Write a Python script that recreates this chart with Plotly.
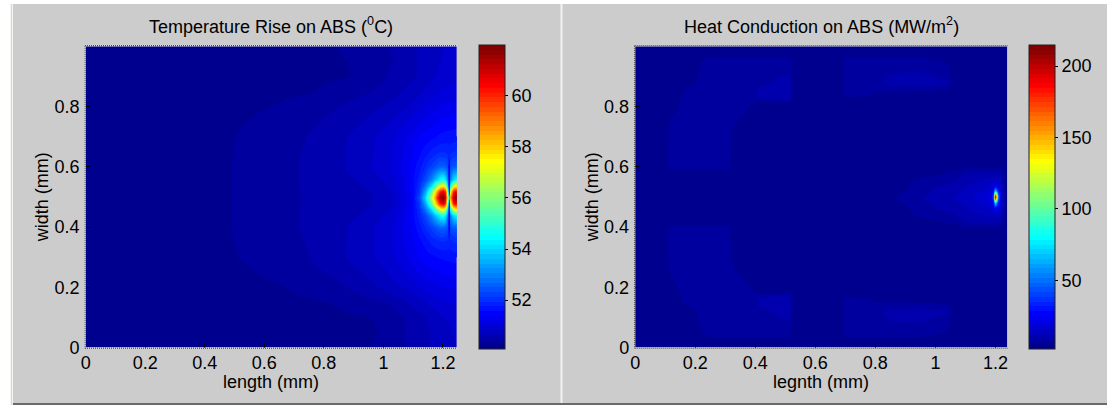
import numpy as np
import plotly.graph_objects as go

# ---------------- data: left panel, temperature rise (deg C) ----------------
T_X = [0, 0.3, 0.45, 0.55, 0.65, 0.75, 0.85, 0.95, 1.02, 1.08, 1.12, 1.16, 1.2, 1.25]
T_Y = [0, 0.05, 0.1, 0.15, 0.2, 0.3, 0.4, 0.45, 0.5, 0.55, 0.6, 0.7, 0.8, 0.85, 0.9, 0.95, 1.0]
T_Z = [
    [50.12, 50.15, 50.18, 50.20, 50.22, 50.24, 50.25, 50.28, 50.38, 50.50, 50.60, 50.68, 50.78, 50.86],
    [50.12, 50.15, 50.18, 50.20, 50.22, 50.24, 50.25, 50.26, 50.32, 50.50, 50.58, 50.66, 50.78, 50.88],
    [50.12, 50.15, 50.18, 50.20, 50.22, 50.24, 50.26, 50.28, 50.36, 50.50, 50.60, 50.70, 50.84, 50.90],
    [50.12, 50.16, 50.19, 50.21, 50.23, 50.26, 50.30, 50.40, 50.48, 50.66, 50.76, 50.90, 51.00, 51.08],
    [50.12, 50.17, 50.21, 50.24, 50.27, 50.35, 50.43, 50.59, 50.75, 50.89, 51.03, 51.12, 51.20, 51.25],
    [50.12, 50.19, 50.25, 50.31, 50.39, 50.47, 50.62, 50.80, 50.97, 51.22, 51.42, 51.55, 51.62, 51.68],
    [50.12, 50.20, 50.26, 50.33, 50.41, 50.50, 50.60, 50.80, 51.00, 51.32, 51.68, 52.60, 52.60, 52.60],
    [50.12, 50.20, 50.26, 50.33, 50.41, 50.50, 50.585, 50.68, 50.88, 51.29, 52.00, 54.00, 57.00, 57.00],
    [50.12, 50.20, 50.26, 50.33, 50.41, 50.495, 50.56, 50.63, 50.76, 51.26, 52.30, 56.50, 61.90, 61.90],
    [50.12, 50.20, 50.26, 50.33, 50.41, 50.505, 50.59, 50.69, 50.90, 51.30, 52.00, 54.00, 57.00, 57.00],
    [50.12, 50.20, 50.26, 50.33, 50.41, 50.51, 50.62, 50.82, 51.03, 51.34, 51.70, 52.20, 52.60, 52.60],
    [50.12, 50.19, 50.25, 50.32, 50.40, 50.48, 50.61, 50.79, 50.97, 51.22, 51.42, 51.55, 51.65, 51.70],
    [50.12, 50.18, 50.23, 50.26, 50.30, 50.38, 50.47, 50.60, 50.70, 50.84, 50.99, 51.12, 51.25, 51.30],
    [50.12, 50.17, 50.21, 50.23, 50.25, 50.27, 50.35, 50.46, 50.58, 50.71, 50.81, 50.93, 51.05, 51.12],
    [50.12, 50.16, 50.20, 50.22, 50.24, 50.25, 50.27, 50.31, 50.50, 50.60, 50.69, 50.81, 50.92, 51.00],
    [50.12, 50.16, 50.19, 50.21, 50.23, 50.25, 50.27, 50.33, 50.45, 50.57, 50.68, 50.77, 50.86, 50.93],
    [50.12, 50.16, 50.19, 50.21, 50.23, 50.26, 50.29, 50.39, 50.47, 50.61, 50.68, 50.76, 50.84, 50.90],
]

# fine patch around the hot spots (x 1.08-1.25, y 0.3-0.7)
T_HOT_X = [1.08, 1.082, 1.1, 1.12, 1.14, 1.16, 1.17, 1.18, 1.19, 1.2, 1.208, 1.214, 1.219, 1.224, 1.232, 1.24, 1.25]
T_HOT_Y = [0.3, 0.302, 0.36, 0.4, 0.44, 0.46, 0.48, 0.5, 0.52, 0.54, 0.56, 0.6, 0.64, 0.698, 0.7]
T_HOT_Z = [
    [51.22, 51.23, 51.32, 51.42, 51.49, 51.55, 51.57, 51.59, 51.60, 51.62, 51.63, 51.64, 51.64, 51.65, 51.66, 51.67, 51.68],
    [51.22, 51.23, 51.32, 51.42, 51.49, 51.55, 51.57, 51.59, 51.61, 51.63, 51.64, 51.65, 51.65, 51.66, 51.67, 51.68, 51.69],
    [51.28, 51.29, 51.40, 51.55, 51.70, 51.85, 51.92, 51.97, 52.00, 52.00, 51.98, 51.95, 51.90, 51.95, 52.00, 52.02, 52.03],
    [51.32, 51.33, 51.50, 51.70, 51.95, 52.20, 52.35, 52.50, 52.60, 52.60, 52.55, 52.40, 51.10, 52.30, 52.50, 52.55, 52.60],
    [51.30, 51.31, 51.55, 51.85, 52.30, 53.00, 53.50, 54.00, 54.50, 54.70, 54.30, 53.20, 50.90, 53.00, 54.00, 54.30, 54.40],
    [51.29, 51.30, 51.55, 51.95, 52.80, 54.00, 55.00, 56.00, 57.00, 57.50, 56.80, 54.50, 50.90, 54.50, 56.80, 57.30, 57.50],
    [51.27, 51.28, 51.55, 52.10, 53.40, 55.50, 57.00, 58.80, 60.30, 60.80, 60.00, 57.00, 51.30, 57.00, 60.00, 60.60, 60.80],
    [51.26, 51.27, 51.55, 52.30, 54.00, 56.50, 58.20, 60.00, 61.50, 61.90, 61.00, 58.00, 54.00, 58.50, 61.00, 61.70, 61.90],
    [51.28, 51.29, 51.57, 52.10, 53.40, 55.50, 57.00, 58.80, 60.30, 60.80, 60.00, 57.00, 51.30, 57.00, 60.00, 60.60, 60.80],
    [51.30, 51.31, 51.57, 51.95, 52.80, 54.00, 55.00, 56.00, 57.00, 57.50, 56.80, 54.50, 50.90, 54.50, 56.80, 57.30, 57.50],
    [51.32, 51.33, 51.57, 51.85, 52.30, 53.00, 53.50, 54.00, 54.50, 54.70, 54.30, 53.20, 50.90, 53.00, 54.00, 54.30, 54.40],
    [51.34, 51.35, 51.52, 51.70, 51.95, 52.20, 52.35, 52.50, 52.60, 52.60, 52.55, 52.40, 51.10, 52.30, 52.50, 52.55, 52.60],
    [51.29, 51.30, 51.42, 51.57, 51.72, 51.87, 51.94, 51.99, 52.02, 52.02, 52.00, 51.97, 51.92, 51.97, 52.02, 52.04, 52.05],
    [51.22, 51.23, 51.32, 51.42, 51.49, 51.55, 51.58, 51.60, 51.63, 51.65, 51.66, 51.67, 51.67, 51.68, 51.69, 51.69, 51.70],
    [51.22, 51.23, 51.32, 51.42, 51.49, 51.55, 51.58, 51.60, 51.63, 51.65, 51.66, 51.67, 51.67, 51.68, 51.69, 51.69, 51.70],
]
T_RANGE = [50.1, 62.0]
T_TICKS = [52, 54, 56, 58, 60]

# ---------------- data: right panel, heat conduction (MW/m^2) ----------------
Q_X = [0, 0.095, 0.115, 0.18, 0.245, 0.305, 0.325, 0.395, 0.41, 0.51, 0.53, 0.675, 0.70,
       0.80, 0.85, 0.95, 1.04, 1.06, 1.10, 1.16, 1.215, 1.232, 1.245]
Q_Y = [0, 0.03, 0.05, 0.12, 0.16, 0.175, 0.19, 0.30, 0.40, 0.42, 0.44, 0.47, 0.5,
       0.53, 0.56, 0.58, 0.60, 0.70, 0.81, 0.825, 0.84, 0.88, 0.95, 0.97, 1.0]
Q_Z = [
    [3, 3, 3, 3, 3, 3, 3, 3, 3, 3, 3, 3, 3, 3, 3, 3, 3, 3, 3, 3, 3, 3, 3],
    [3, 3, 3, 3, 4.5, 4.5, 4.5, 4.5, 4.5, 4.5, 3, 3, 4.5, 4.5, 4.5, 4.5, 3.5, 3, 3, 3, 3, 3, 3],
    [3, 3, 3, 3, 7, 7, 7, 7, 7, 7, 3, 3, 7, 7, 7, 7, 5, 3, 3, 3, 3, 3, 3],
    [3, 3, 3, 4.5, 7, 7, 7, 7, 7.5, 10, 3, 3, 7, 7, 10, 10.5, 9, 3, 3, 3, 3, 3, 3],
    [3, 3, 3, 7, 7, 7, 7, 7, 10.5, 10.5, 3, 3, 7, 5, 4, 3.5, 3, 3, 3, 3, 3, 3, 3],
    [3, 3, 3.5, 7, 7, 7, 7, 7, 7.5, 9, 3, 3, 4, 3, 3, 3, 3, 3, 3, 3, 3, 3, 3],
    [3, 3, 4, 7, 7, 7, 7, 5, 3, 3, 3, 3, 3, 3, 3, 3, 3, 3, 3, 3, 3, 3, 3],
    [3, 3, 7, 7, 7, 7, 4.5, 3, 3, 3, 3, 3, 3, 3, 3, 3, 3, 3, 3, 3, 3, 3, 3],
    [3, 3, 7, 7, 7, 7, 3, 3, 3, 3, 3, 3, 3, 3, 3, 3, 3, 3, 5, 5, 5, 3, 3],
    [3, 3, 3, 3, 3, 3, 3, 3, 3, 3, 3, 3, 3, 3, 3, 3, 6, 6.5, 9, 10, 10, 3, 3],
    [3, 3, 3, 3, 3, 3, 3, 3, 3, 3, 3, 3, 3, 3, 3, 6, 7, 8, 10.5, 12, 13, 3, 3],
    [3, 3, 3, 3, 3, 3, 3, 3, 3, 3, 3, 3, 3, 3, 3, 7, 10.5, 10.5, 12, 15, 17, 3, 3],
    [3, 3, 3, 3, 3, 3, 3, 3, 3, 3, 3, 3, 3, 3, 5, 8.5, 11, 12, 14, 18, 22, 3, 3],
    [3, 3, 3, 3, 3, 3, 3, 3, 3, 3, 3, 3, 3, 3, 3, 7, 10.5, 10.5, 12, 15, 17, 3, 3],
    [3, 3, 3, 3, 3, 3, 3, 3, 3, 3, 3, 3, 3, 3, 3, 6, 7, 8, 10.5, 12, 13, 3, 3],
    [3, 3, 3, 3, 3, 3, 3, 3, 3, 3, 3, 3, 3, 3, 3, 3, 6, 6.5, 9, 10, 10, 3, 3],
    [3, 3, 7, 7, 7, 7, 3, 3, 3, 3, 3, 3, 3, 3, 3, 3, 3, 3, 5, 5, 5, 3, 3],
    [3, 3, 7, 7, 7, 7, 4.5, 3, 3, 3, 3, 3, 3, 3, 3, 3, 3, 3, 3, 3, 3, 3, 3],
    [3, 3, 4, 7, 7, 7, 7, 5, 3, 3, 3, 3, 3, 3, 3, 3, 3, 3, 3, 3, 3, 3, 3],
    [3, 3, 3.5, 7, 7, 7, 7, 7, 7.5, 9, 3, 3, 4, 3, 3, 3, 3, 3, 3, 3, 3, 3, 3],
    [3, 3, 3, 7, 7, 7, 7, 7, 10.5, 10.5, 3, 3, 7, 5, 4, 3.5, 3, 3, 3, 3, 3, 3, 3],
    [3, 3, 3, 4.5, 7, 7, 7, 7, 7.5, 10, 3, 3, 7, 7, 10, 10.5, 9, 3, 3, 3, 3, 3, 3],
    [3, 3, 3, 3, 7, 7, 7, 7, 7, 7, 3, 3, 7, 7, 7, 7, 5, 3, 3, 3, 3, 3, 3],
    [3, 3, 3, 3, 4.5, 4.5, 4.5, 4.5, 4.5, 4.5, 3, 3, 4.5, 4.5, 4.5, 4.5, 3.5, 3, 3, 3, 3, 3, 3],
    [3, 3, 3, 3, 3, 3, 3, 3, 3, 3, 3, 3, 3, 3, 3, 3, 3, 3, 3, 3, 3, 3, 3],
]

# fine patch around the conduction peak (x 1.17-1.225, y 0.44-0.56)
Q_HOT_X = [1.17, 1.172, 1.185, 1.192, 1.197, 1.2, 1.203, 1.208, 1.215, 1.223, 1.225]
Q_HOT_Y = [0.44, 0.442, 0.465, 0.48, 0.49, 0.5, 0.51, 0.52, 0.535, 0.558, 0.56]
Q_HOT_Z = [
    [12.2, 12.2, 12.5, 12.6, 12.7, 12.7, 12.7, 12.9, 13.0, 8.3, 7.1],
    [12.4, 12.4, 12.7, 12.9, 13.0, 13.0, 13.0, 13.1, 13.2, 8.4, 7.2],
    [14.9, 15.0, 16.5, 19, 24, 28, 24, 19, 16.5, 10, 8.5],
    [16.5, 16.6, 19, 28, 55, 75, 55, 28, 19, 10.8, 9.5],
    [17.6, 17.8, 21, 38, 110, 150, 110, 38, 21, 11.5, 10.1],
    [18.7, 18.9, 23, 45, 150, 215, 150, 45, 22, 12, 10.8],
    [17.6, 17.8, 21, 38, 110, 150, 110, 38, 21, 11.5, 10.1],
    [16.5, 16.6, 19, 28, 55, 75, 55, 28, 19, 10.8, 9.5],
    [14.9, 15.0, 16.5, 19, 24, 28, 24, 19, 16.5, 10, 8.5],
    [12.4, 12.4, 12.7, 12.9, 13.0, 13.0, 13.0, 13.1, 13.2, 8.4, 7.2],
    [12.2, 12.2, 12.5, 12.6, 12.7, 12.7, 12.7, 12.9, 13.0, 8.3, 7.1],
]
Q_RANGE = [2.0, 215.0]
Q_TICKS = [50, 100, 150, 200]

X_TICKS = [0, 0.2, 0.4, 0.6, 0.8, 1.0, 1.2]
Y_TICKS = [0, 0.2, 0.4, 0.6, 0.8]

TITLE_T = "Temperature Rise on ABS (<sup>0</sup>C)"
TITLE_Q = "Heat Conduction on ABS (MW/m<sup>2</sup>)"
XLABEL_T = "length (mm)"
XLABEL_Q = "legnth (mm)"
YLABEL = "width (mm)"


# ---------------- MATLAB "jet" colormap with 64 discrete steps ----------------
def jet64():
    m = 64
    n = int(np.ceil(m / 4))
    u = np.concatenate([np.arange(1, n + 1) / n, np.ones(n - 1), np.arange(n, 0, -1) / n])
    g = int(np.ceil(n / 2)) - (1 if m % 4 == 1 else 0) + np.arange(1, len(u) + 1)
    r = g + n
    b = g - n
    J = np.zeros((m, 3))
    ok = r <= m
    J[r[ok] - 1, 0] = u[ok]
    J[g - 1, 1] = u
    ok = b >= 1
    J[b[ok] - 1, 2] = u[ok]
    return J


cols = jet64()
CSCALE = []
for i, c in enumerate(cols):
    rgb = "rgb(%d,%d,%d)" % tuple(int(round(v * 255)) for v in c)
    CSCALE.append([i / 64, rgb])
    CSCALE.append([(i + 1) / 64, rgb])

# The page is captured taller than the target and scaled down to 405 px,
# so the figure is laid out on a 417 px tall page using 405-px based fractions.
W, H_REF, H = 1107, 405, 417
FONT = "Liberation Sans, Arial, Helvetica, sans-serif"
FS = 18


def px(x):
    return x / W


def py(y):
    return 1 - y / H_REF


fig = go.Figure()

cb_common = dict(thickness=26, thicknessmode="pixels", len=(347 - 44) / H_REF, lenmode="fraction",
                 y=py(347), yanchor="bottom", xanchor="left", xpad=0, ypad=0,
                 outlinewidth=1, outlinecolor="#202020", ticks="outside", ticklen=3,
                 tickcolor="black", tickfont=dict(family=FONT, size=FS, color="black"))

fig.add_trace(go.Heatmap(x=T_X, y=T_Y, z=T_Z, zmin=T_RANGE[0], zmax=T_RANGE[1], colorscale=CSCALE,
                         zsmooth="best", xaxis="x", yaxis="y", hoverinfo="skip",
                         colorbar=dict(x=px(476), tickvals=T_TICKS, **cb_common)))
fig.add_trace(go.Heatmap(x=T_HOT_X, y=T_HOT_Y, z=T_HOT_Z, zmin=T_RANGE[0], zmax=T_RANGE[1],
                         colorscale=CSCALE, zsmooth="best", xaxis="x", yaxis="y",
                         showscale=False, hoverinfo="skip"))
fig.add_trace(go.Heatmap(x=Q_X, y=Q_Y, z=Q_Z, zmin=Q_RANGE[0], zmax=Q_RANGE[1], colorscale=CSCALE,
                         zsmooth="best", xaxis="x2", yaxis="y2", hoverinfo="skip",
                         colorbar=dict(x=px(1029), tickvals=Q_TICKS, **cb_common)))
fig.add_trace(go.Heatmap(x=Q_HOT_X, y=Q_HOT_Y, z=Q_HOT_Z, zmin=Q_RANGE[0], zmax=Q_RANGE[1],
                         colorscale=CSCALE, zsmooth="best", xaxis="x2", yaxis="y2",
                         showscale=False, hoverinfo="skip"))

ax_common = dict(showgrid=False, zeroline=False, showline=False, ticks="inside", ticklen=4,
                 tickcolor="black", tickwidth=1, fixedrange=True,
                 tickfont=dict(family=FONT, size=FS, color="black"))
ydom = [py(346), py(46)]
fig.update_layout(
    xaxis=dict(domain=[px(81), px(454)], range=[0, 1.247], tickvals=X_TICKS, anchor="y",
               ticklabelstandoff=2, **ax_common),
    yaxis=dict(domain=ydom, range=[0, 1.0], tickvals=Y_TICKS, anchor="x", ticklabelstandoff=5, **ax_common),
    xaxis2=dict(domain=[px(633), px(1007)], range=[0, 1.24], tickvals=X_TICKS, anchor="y2",
                ticklabelstandoff=2, **ax_common),
    yaxis2=dict(domain=ydom, range=[0, 1.0], tickvals=Y_TICKS, anchor="x2", ticklabelstandoff=5, **ax_common),
)

shapes = []
# grey figure panels
shapes.append(dict(type="rect", xref="paper", yref="paper", x0=px(8), x1=1, y0=py(402), y1=py(4),
                   fillcolor="#CCCCCC", line=dict(width=0), layer="below"))
shapes.append(dict(type="line", xref="paper", yref="paper", x0=px(6.5), x1=px(6.5), y0=py(403), y1=py(4),
                   line=dict(color="#DED6CC", width=1.5), layer="below"))
shapes.append(dict(type="line", xref="paper", yref="paper", x0=px(559), x1=px(559), y0=py(401), y1=py(4),
                   line=dict(color="#F2F2F2", width=2), layer="below"))
shapes.append(dict(type="line", xref="paper", yref="paper", x0=px(8), x1=1, y0=py(402), y1=py(402),
                   line=dict(color="#6A6A6A", width=2), layer="below"))
# dotted MATLAB style axes edges
for (l, r) in [(80.5, 454), (632.5, 1007)]:
    for (xa, ya, xb, yb) in [(l, 45.5, r, 45.5), (l, 45.5, l, 346.5), (l, 346.5, r, 346.5)]:
        shapes.append(dict(type="line", xref="paper", yref="paper", x0=px(xa), x1=px(xb), y0=py(ya), y1=py(yb),
                           line=dict(color="white", width=1), layer="above"))
        shapes.append(dict(type="line", xref="paper", yref="paper", x0=px(xa), x1=px(xb), y0=py(ya), y1=py(yb),
                           line=dict(color="black", width=1, dash="1px,1px"), layer="above"))

ann = []
tf = dict(family=FONT, size=FS, color="black")
ann.append(dict(text=TITLE_T, x=px(267.5), y=py(25), xref="paper", yref="paper", showarrow=False,
                xanchor="center", yanchor="middle", font=tf))
ann.append(dict(text=TITLE_Q, x=px(820), y=py(25), xref="paper", yref="paper", showarrow=False,
                xanchor="center", yanchor="middle", font=tf))
ann.append(dict(text=XLABEL_T, x=px(267.5), y=py(380), xref="paper", yref="paper", showarrow=False,
                xanchor="center", yanchor="middle", font=tf))
ann.append(dict(text=XLABEL_Q, x=px(820), y=py(380), xref="paper", yref="paper", showarrow=False,
                xanchor="center", yanchor="middle", font=tf))
ann.append(dict(text=YLABEL, x=px(37.5), y=py(196), xref="paper", yref="paper", showarrow=False,
                xanchor="center", yanchor="middle", textangle=-90, font=tf))
ann.append(dict(text=YLABEL, x=px(590), y=py(196), xref="paper", yref="paper", showarrow=False,
                xanchor="center", yanchor="middle", textangle=-90, font=tf))

fig.update_layout(width=W, height=H, autosize=False, margin=dict(l=0, r=0, t=0, b=0, pad=0),
                  paper_bgcolor="white", plot_bgcolor="#CCCCCC", showlegend=False,
                  shapes=shapes, annotations=ann, font=dict(family=FONT, size=FS, color="black"))

fig.write_html("out.html", config={"displayModeBar": False, "staticPlot": True, "responsive": False},
               post_script="document.documentElement.style.margin='0px';document.body.style.margin='0px';"
                           "document.documentElement.style.overflow='hidden';document.body.style.overflow='hidden';")
